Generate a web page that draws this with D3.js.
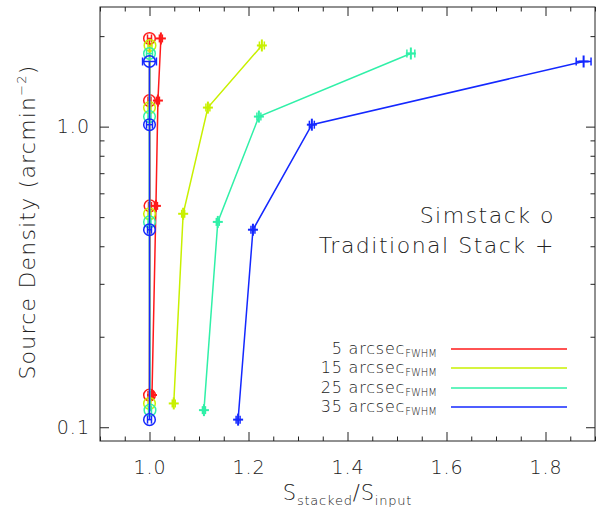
<!DOCTYPE html>
<html><head><meta charset="utf-8">
<script src="https://cdn.jsdelivr.net/npm/d3@7"></script>
<style>
body{margin:0;background:#fff;}
text{font-family:"DejaVu Sans",sans-serif;font-weight:200;fill:#222;}
</style></head>
<body><svg id="c" width="597" height="512"></svg>
<script>
// ---- data ----
const fwhm = ["5", "15", "25", "35"];
const colors = ["#ff1a1a", "#c8f000", "#30f0a8", "#1428ff"];
// source density per point (arcmin^-2), one array per beam size
const density5  = [0.128, 0.545, 1.221, 1.965];
const density15 = [0.120, 0.513, 1.157, 1.862];
const density25 = [0.114, 0.482, 1.080, 1.751];
const density35 = [0.106, 0.454, 1.015, 1.647];
// Simstack ratio S_stacked/S_input
const sim5  = [1.000, 1.001, 1.000, 1.000];
const sim15 = [1.000, 1.000, 1.000, 1.001];
const sim25 = [1.001, 1.000, 1.000, 1.000];
const sim35 = [1.000, 1.000, 1.000, 1.000];
const simErr5  = [0.003, 0.003, 0.003, 0.004];
const simErr15 = [0.003, 0.003, 0.003, 0.004];
const simErr25 = [0.003, 0.003, 0.003, 0.006];
const simErr35 = [0.004, 0.004, 0.006, 0.014];
// Traditional stack ratio
const trad5  = [1.005, 1.013, 1.017, 1.023];
const trad15 = [1.049, 1.068, 1.118, 1.227];
const trad25 = [1.110, 1.138, 1.221, 1.528];
const trad35 = [1.179, 1.209, 1.328, 1.877];
const tradErr5  = [0.003, 0.003, 0.003, 0.003];
const tradErr15 = [0.003, 0.003, 0.004, 0.005];
const tradErr25 = [0.003, 0.003, 0.004, 0.008];
const tradErr35 = [0.004, 0.004, 0.005, 0.015];
const xMajor = [1.0, 1.2, 1.4, 1.6, 1.8];
const yMajor = [0.1, 1.0];
const yMinor = [0.2,0.3,0.4,0.5,0.6,0.7,0.8,0.9,2.0];

const series = [
  {d:density5, s:sim5, se:simErr5, t:trad5, te:tradErr5},
  {d:density15, s:sim15, se:simErr15, t:trad15, te:tradErr15},
  {d:density25, s:sim25, se:simErr25, t:trad25, te:tradErr25},
  {d:density35, s:sim35, se:simErr35, t:trad35, te:tradErr35}
];

const svg = d3.select("#c");
const L=100, R=595, T=7, B=441;
const x = d3.scaleLinear().domain([0.9,1.9]).range([L,R]);
const y = d3.scaleLog().domain([0.09,2.5]).range([B,T]);
const xMinor = d3.range(0.9,1.9001,0.05).map(v=>+v.toFixed(2)).filter(v=>!xMajor.some(m=>Math.abs(m-v)<1e-6));

function styleAxis(g){ g.select(".domain").remove(); g.selectAll("line").attr("stroke","#222"); }
// bottom
svg.append("g").attr("transform",`translate(0,${B})`)
  .call(d3.axisBottom(x).tickValues(xMajor).tickSize(-9).tickPadding(20).tickFormat(d3.format(".1f")))
  .call(styleAxis).selectAll("text").attr("font-size",19).attr("letter-spacing",1).attr("fill","#222");
svg.append("g").attr("transform",`translate(0,${B})`)
  .call(d3.axisBottom(x).tickValues(xMinor).tickSize(-4.5).tickFormat("")).call(styleAxis);
// top
svg.append("g").attr("transform",`translate(0,${T})`)
  .call(d3.axisTop(x).tickValues(xMajor).tickSize(-9).tickFormat("")).call(styleAxis);
svg.append("g").attr("transform",`translate(0,${T})`)
  .call(d3.axisTop(x).tickValues(xMinor).tickSize(-4.5).tickFormat("")).call(styleAxis);
// left
svg.append("g").attr("transform",`translate(${L},0)`)
  .call(d3.axisLeft(y).tickValues(yMajor).tickSize(-9).tickPadding(10).tickFormat(d3.format(".1f")))
  .call(styleAxis).selectAll("text").attr("font-size",19).attr("letter-spacing",1).attr("fill","#222");
svg.append("g").attr("transform",`translate(${L},0)`)
  .call(d3.axisLeft(y).tickValues(yMinor).tickSize(-4.5).tickFormat("")).call(styleAxis);
// right
svg.append("g").attr("transform",`translate(${R},0)`)
  .call(d3.axisRight(y).tickValues(yMajor).tickSize(-9).tickFormat("")).call(styleAxis);
svg.append("g").attr("transform",`translate(${R},0)`)
  .call(d3.axisRight(y).tickValues(yMinor).tickSize(-4.5).tickFormat("")).call(styleAxis);
// frame
svg.append("rect").attr("x",L).attr("y",T).attr("width",R-L).attr("height",B-T)
  .attr("fill","none").attr("stroke","#222").attr("stroke-width",1);

const line = d3.line();
series.forEach((sr,i)=>{
  const c = colors[i];
  const g = svg.append("g").attr("stroke",c).attr("fill","none").attr("stroke-width",1.5);
  const simPts = sr.d.map((d,k)=>[x(sr.s[k]), y(d)]);
  const tradPts = sr.d.map((d,k)=>[x(sr.t[k]), y(d)]);
  g.append("path").attr("d",line(simPts));
  g.append("path").attr("d",line(tradPts));
  // error bars
  const eb = (vals,errs)=>sr.d.forEach((d,k)=>{
    const yy=y(d), x0=x(vals[k]-errs[k]), x1=x(vals[k]+errs[k]);
    g.append("line").attr("x1",x0).attr("x2",x1).attr("y1",yy).attr("y2",yy);
    g.append("line").attr("x1",x0).attr("x2",x0).attr("y1",yy-4).attr("y2",yy+4);
    g.append("line").attr("x1",x1).attr("x2",x1).attr("y1",yy-4).attr("y2",yy+4);
  });
  eb(sr.s, sr.se); eb(sr.t, sr.te);
  // circles
  simPts.forEach(p=>g.append("circle").attr("cx",p[0]).attr("cy",p[1]).attr("r",5.8));
  // plus
  tradPts.forEach(p=>{
    g.append("line").attr("x1",p[0]-5).attr("x2",p[0]+5).attr("y1",p[1]).attr("y2",p[1]).attr("stroke-width",2);
    g.append("line").attr("x1",p[0]).attr("x2",p[0]).attr("y1",p[1]-6).attr("y2",p[1]+6).attr("stroke-width",2);
  });
});

// legend
const legY = [349, 368, 388, 407];
fwhm.forEach((f,i)=>{
  const t = svg.append("text").attr("x",437).attr("y",legY[i]+5).attr("text-anchor","end").attr("font-size",16).attr("letter-spacing",0.8);
  t.append("tspan").text(f+" arcsec");
  t.append("tspan").attr("font-size",10).attr("letter-spacing",0).attr("dy",3).text("FWHM");
  svg.append("line").attr("x1",451).attr("x2",567).attr("y1",legY[i]).attr("y2",legY[i])
    .attr("stroke",colors[i]).attr("stroke-width",1.5);
});
svg.append("text").attr("x",555).attr("y",223).attr("text-anchor","end").attr("font-size",22).attr("letter-spacing",1.5).text("Simstack o");
svg.append("text").attr("x",555).attr("y",253).attr("text-anchor","end").attr("font-size",22).attr("letter-spacing",1.5).text("Traditional Stack +");

// axis titles
const xt = svg.append("text").attr("x",(L+R)/2).attr("y",500).attr("text-anchor","middle").attr("font-size",21).attr("letter-spacing",0.8);
xt.append("tspan").text("S");
xt.append("tspan").attr("font-size",13).attr("dy",5).text("stacked");
xt.append("tspan").attr("dy",-5).text("/S");
xt.append("tspan").attr("font-size",13).attr("dy",5).text("input");

const yt = svg.append("text").attr("transform","translate(35,222) rotate(-90)").attr("text-anchor","middle").attr("font-size",22).attr("letter-spacing",1.2);
yt.append("tspan").text("Source Density (arcmin");
yt.append("tspan").attr("font-size",13).attr("dy",-9).text("−2");
yt.append("tspan").attr("dy",9).text(")");
</script></body></html>
